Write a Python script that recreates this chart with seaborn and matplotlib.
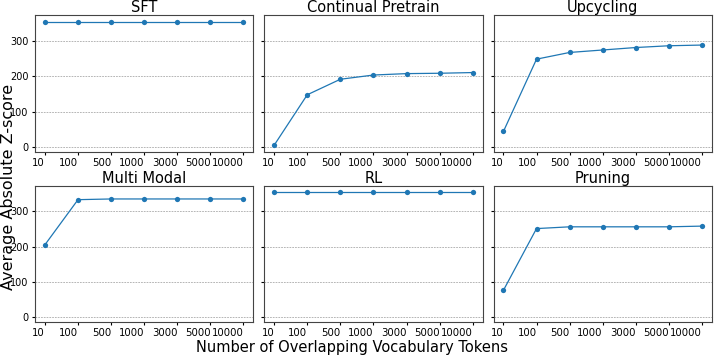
import matplotlib
matplotlib.use("Agg")
import matplotlib.pyplot as plt
import numpy as np
import pandas as pd
import seaborn as sns

# x categories (equally spaced, categorical)
token_counts = ["10", "100", "500", "1000", "3000", "5000", "10000"]

# values
sft = [354, 354, 354, 354, 354, 354, 354]
continual_pretrain = [5, 148, 192, 204, 208, 209, 211]
upcycling = [44, 249, 268, 275, 282, 287, 289]
multi_modal = [205, 333, 335, 335, 335, 335, 335]
rl = [356, 356, 356, 356, 356, 356, 356]
pruning = [76, 251, 256, 256, 256, 256, 258]

panels = [
    ("SFT", sft),
    ("Continual Pretrain", continual_pretrain),
    ("Upcycling", upcycling),
    ("Multi Modal", multi_modal),
    ("RL", rl),
    ("Pruning", pruning),
]

fig, axes = plt.subplots(2, 3, figsize=(7.14, 3.59), dpi=100, sharey=True)
fig.subplots_adjust(left=0.049, right=0.997, top=0.957, bottom=0.104,
                    wspace=0.05, hspace=0.25)

for ax, (title, vals) in zip(axes.flat, panels):
    df = pd.DataFrame({"tokens": token_counts, "z": vals})
    sns.lineplot(data=df, x="tokens", y="z", marker="o", markersize=3.8,
                 markeredgewidth=0, linewidth=0.9, color="#1f77b4", ax=ax)
    ax.set_title(title, fontsize=10.5, pad=2)
    ax.set_xlabel("")
    ax.set_ylabel("")
    ax.set_ylim(-13, 373)
    ax.set_yticks([0, 100, 200, 300])
    ax.yaxis.grid(True, linestyle=(0, (2.5, 1.5)), linewidth=0.5, color="#999999")
    ax.tick_params(axis="y", labelsize=7, length=2.5, pad=2)
    ax.tick_params(axis="x", labelsize=7.3, length=2.5, pad=2)
    for lab in ax.get_xticklabels():
        lab.set_horizontalalignment("right")
    for sp in ax.spines.values():
        sp.set_color("#444444")

fig.text(0.493, 0.012, "Number of Overlapping Vocabulary Tokens",
         ha="center", va="bottom", fontsize=10.5)
fig.text(0.002, 0.48, "Average Absolute Z-score", rotation=90,
         ha="left", va="center", fontsize=11.5)

plt.savefig("out.png", dpi=100)
plt.close()
